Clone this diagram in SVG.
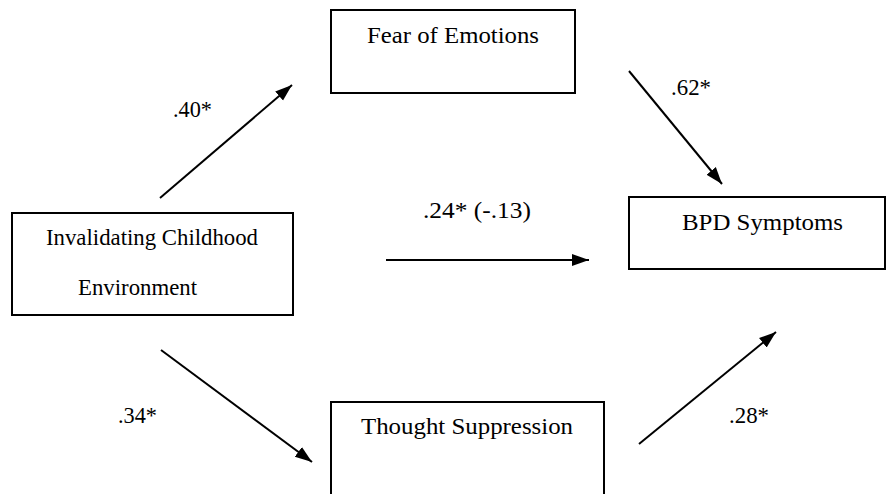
<svg xmlns="http://www.w3.org/2000/svg" width="886" height="494" viewBox="0 0 886 494">
<style>
.box{fill:#fff;stroke:#000;stroke-width:2}
.c{stroke:#000;stroke-width:2;fill:none;marker-end:url(#ah)}
text{font-family:'Liberation Serif','Times New Roman',serif;font-size:24px;fill:#000}
</style>
<defs>
<marker id="ah" markerUnits="userSpaceOnUse" markerWidth="18" markerHeight="14" refX="17" refY="7" orient="auto">
<path d="M0,1 L17,7 L0,13 z" fill="#000"/>
</marker>
</defs>
<rect width="886" height="494" fill="#fff"/>
<g id="fear">
<rect class="box" x="331" y="10" width="244" height="83"/>
<text x="367" y="43" textLength="172" lengthAdjust="spacingAndGlyphs">Fear of Emotions</text>
</g>
<g id="invalidating">
<rect class="box" x="12" y="213" width="281" height="102"/>
<text x="46" y="245" textLength="212" lengthAdjust="spacingAndGlyphs">Invalidating Childhood</text>
<text x="78" y="295" textLength="119" lengthAdjust="spacingAndGlyphs">Environment</text>
</g>
<g id="bpd">
<rect class="box" x="629" y="197" width="256" height="72"/>
<text x="682" y="230" textLength="161" lengthAdjust="spacingAndGlyphs">BPD Symptoms</text>
</g>
<g id="thought">
<rect class="box" x="331" y="402" width="273" height="110"/>
<text x="361" y="434" textLength="212" lengthAdjust="spacingAndGlyphs">Thought Suppression</text>
</g>
<g id="connectors">
<line class="c" x1="160" y1="198" x2="292" y2="85"/>
<line class="c" x1="629" y1="71" x2="722" y2="184"/>
<line class="c" x1="386" y1="260" x2="589" y2="260"/>
<line class="c" x1="161" y1="350" x2="312" y2="462"/>
<line class="c" x1="639" y1="444" x2="776" y2="332"/>
</g>
<g id="labels">
<text x="173" y="117" textLength="39" lengthAdjust="spacingAndGlyphs">.40*</text>
<text x="671" y="95" textLength="40" lengthAdjust="spacingAndGlyphs">.62*</text>
<text x="423" y="218" textLength="108" lengthAdjust="spacingAndGlyphs">.24* (-.13)</text>
<text x="118" y="423" textLength="39" lengthAdjust="spacingAndGlyphs">.34*</text>
<text x="729" y="423" textLength="40" lengthAdjust="spacingAndGlyphs">.28*</text>
</g>
</svg>
